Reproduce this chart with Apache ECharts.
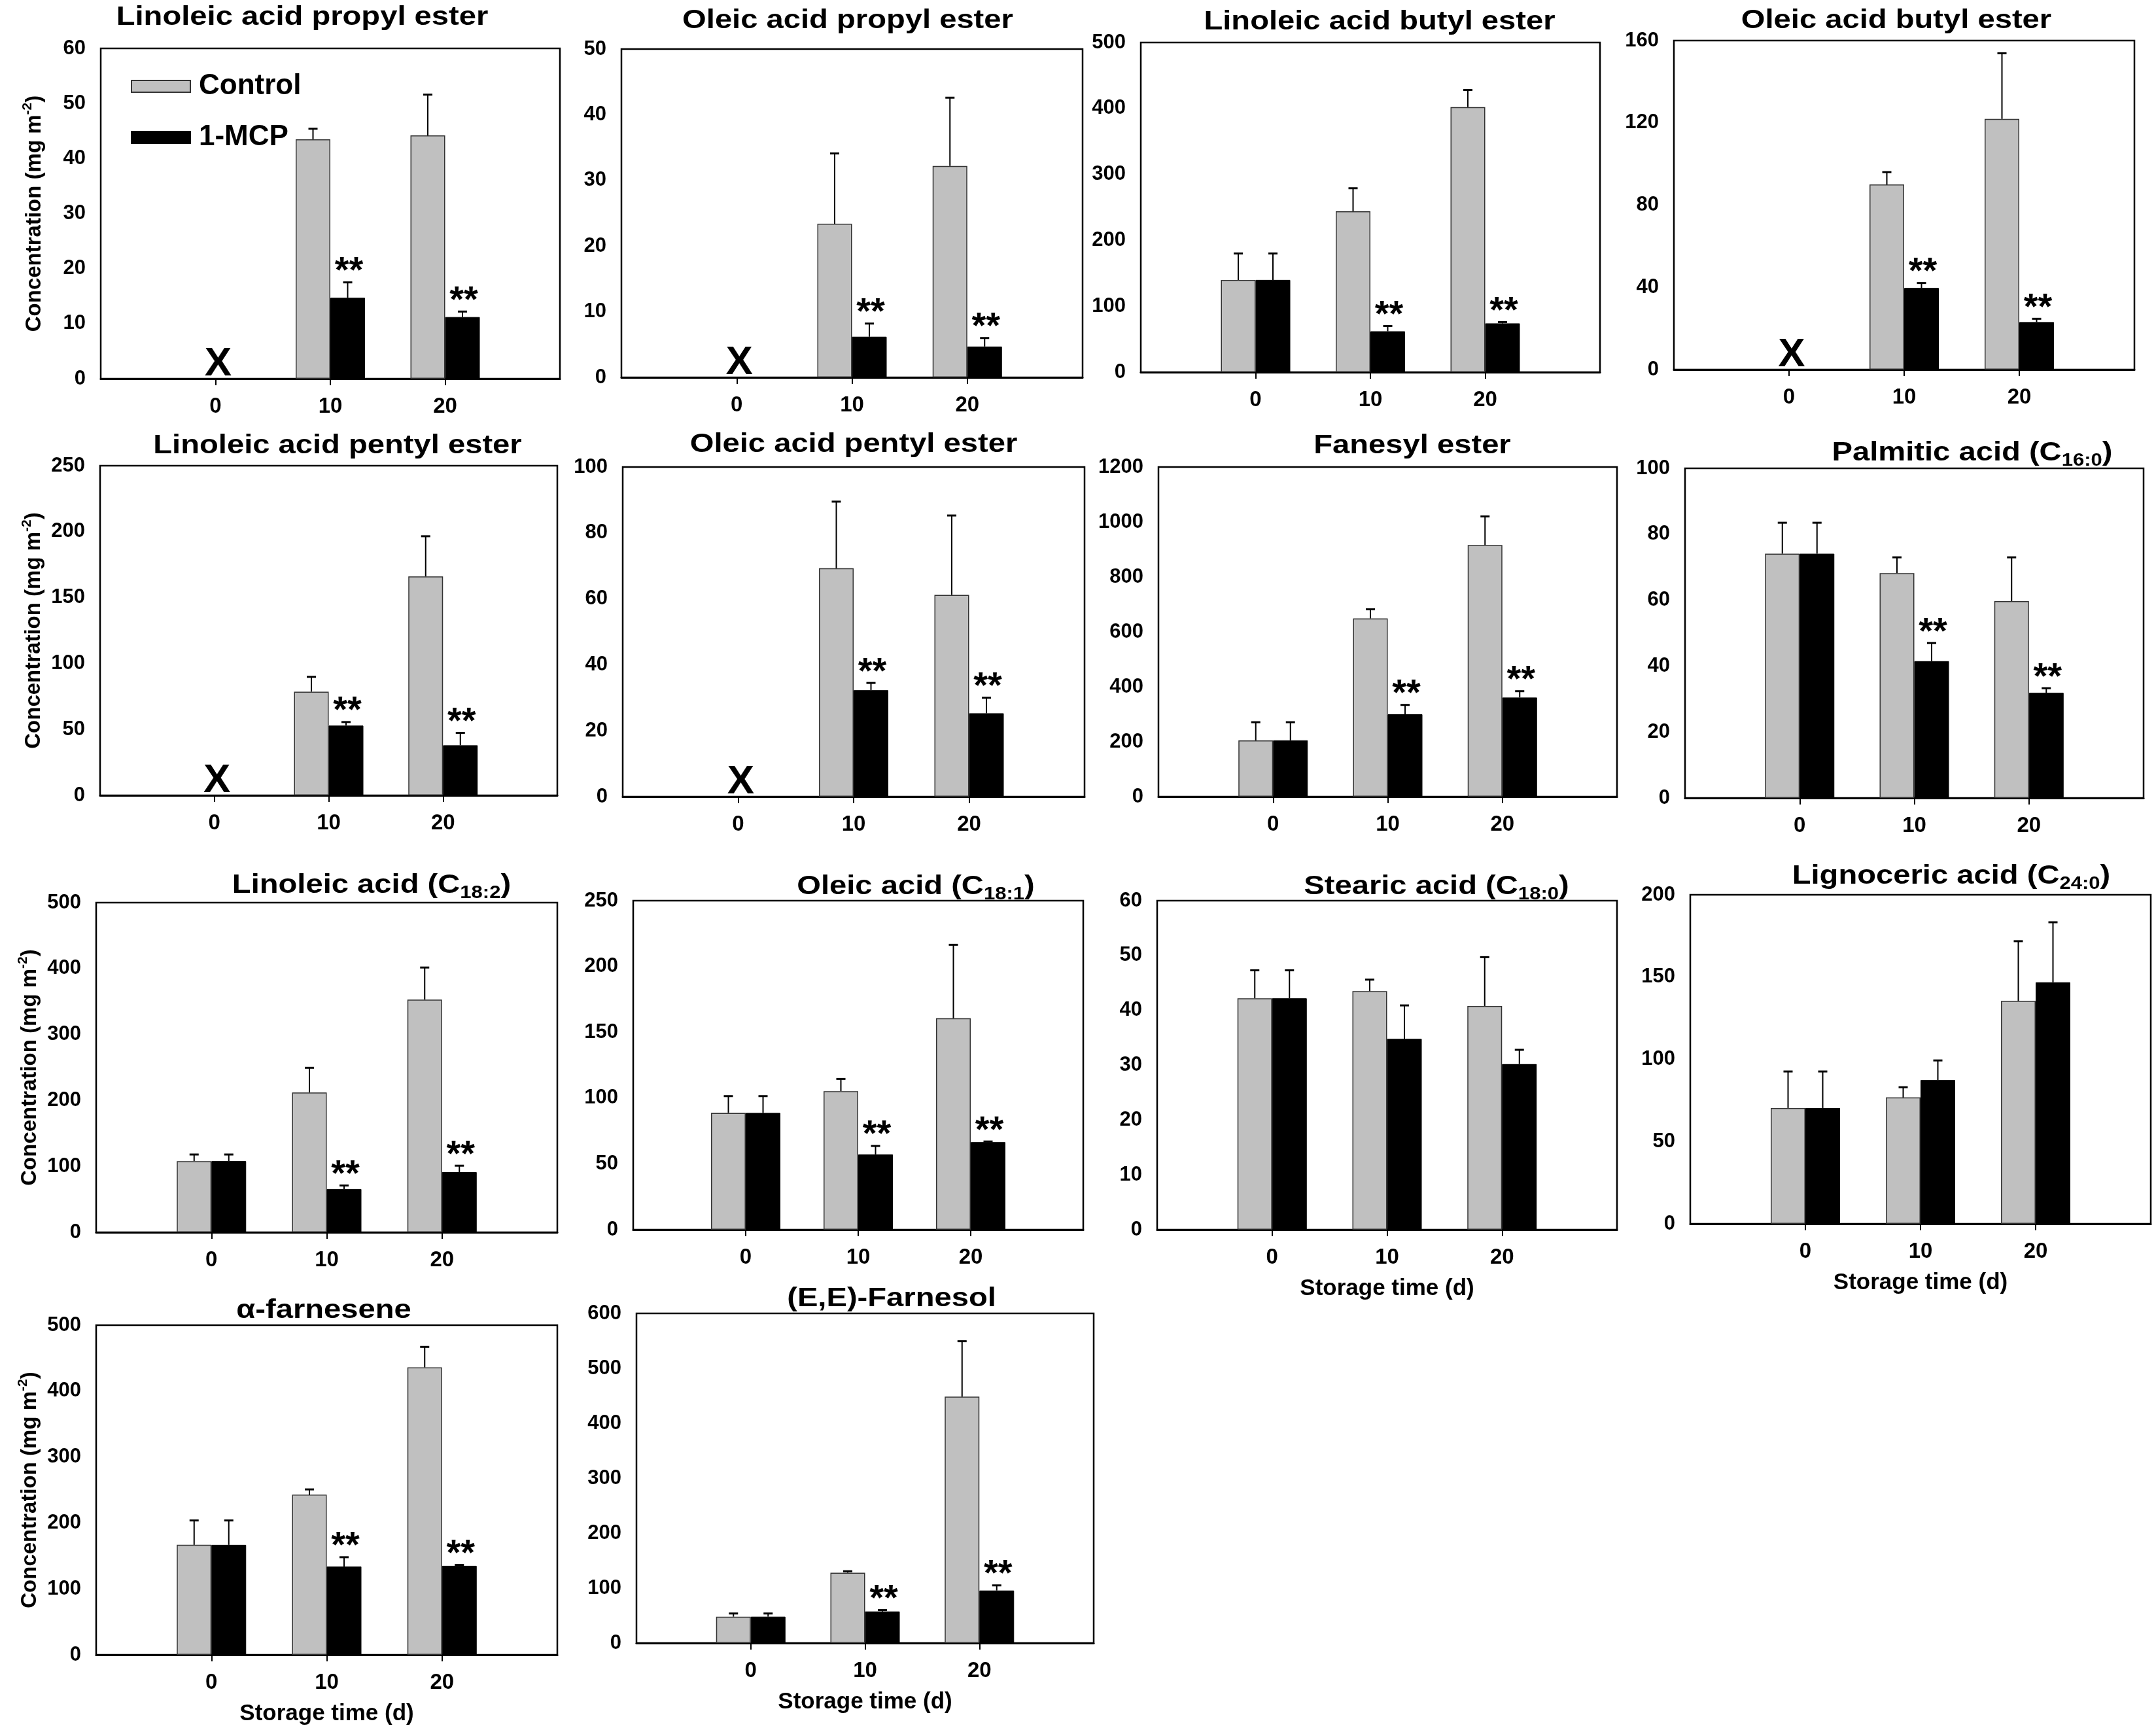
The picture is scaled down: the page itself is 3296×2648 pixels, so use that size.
<!DOCTYPE html>
<html>
<head>
<meta charset="utf-8">
<script src="https://cdn.jsdelivr.net/npm/echarts@6/dist/echarts.min.js"></script>
<style>
html, body { margin: 0; padding: 0; background: #fff; }
#chart { width: 3296px; height: 2648px; }
</style>
</head>
<body>
<div id="chart"></div>
<script>
// storage days on the x axis
var days = ['0', '10', '20'];

// panel titles (subscript part kept apart)
var titleText = ['Linoleic acid propyl ester', 'Oleic acid propyl ester', 'Linoleic acid butyl ester', 'Oleic acid butyl ester',
    'Linoleic acid pentyl ester', 'Oleic acid pentyl ester', 'Fanesyl ester', 'Palmitic acid',
    'Linoleic acid', 'Oleic acid', 'Stearic acid', 'Lignoceric acid',
    'α-farnesene', '(E,E)-Farnesol'];
var titleSub = ['', '', '', '', '', '', '', '16:0', '18:2', '18:1', '18:0', '24:0', '', ''];

// y axis ranges
var yMax = [60, 50, 500, 160, 250, 100, 1200, 100, 500, 250, 60, 200, 500, 600];
var yStep = [10, 10, 100, 40, 50, 20, 200, 20, 100, 50, 10, 50, 100, 100];

// means and SD, null = not detected (X)
var controlMean = [
    [null, 43.5, 44.2], [null, 23.4, 32.2], [140, 244, 402], [null, 90, 121.9],
    [null, 78.6, 166], [null, 69.3, 61.2], [205, 649, 916], [74.1, 68.2, 59.7],
    [108, 212, 353], [88.7, 105.3, 160.7], [42.2, 43.5, 40.8], [70.4, 76.8, 135.5],
    [166.8, 243, 436], [48, 128, 448.4]
];
var controlSD = [
    [null, 1.9, 7.4], [null, 10.7, 10.4], [40, 35, 26], [null, 6, 31.9],
    [null, 11.3, 30.5], [null, 20.2, 24.1], [66, 33, 104], [9.4, 4.8, 13.3],
    [10, 37.6, 48.6], [12.8, 9.3, 55.8], [5.1, 2.1, 8.9], [22.2, 6.2, 36.3],
    [37, 7.9, 31], [5.8, 2.7, 100.9]
];
var mcpMean = [
    [null, 14.7, 11.2], [null, 6.2, 4.7], [140, 62, 74], [null, 39.7, 23.1],
    [null, 52.9, 38], [null, 32.3, 25.3], [205, 300, 361], [74.1, 41.5, 31.9],
    [108, 65.6, 91.3], [88.7, 57.2, 66.5], [42.2, 34.8, 30.2], [70.4, 87.4, 146.8],
    [166.8, 134, 135], [48, 57.5, 95.6]
];
var mcpSD = [
    [null, 2.8, 1.0], [null, 2.0, 1.3], [40, 8, 2], [null, 2.4, 1.6],
    [null, 2.7, 9.4], [null, 2.2, 4.7], [66, 34, 23], [9.4, 5.5, 1.4],
    [10, 5.4, 9.7], [12.8, 6.4, 0.5], [5.1, 6.1, 2.6], [22.2, 11.9, 36.5],
    [37, 14, 1.3], [5.8, 2.5, 9.4]
];
// ** marks (1-MCP vs control)
var starred = [
    [0, 1, 1], [0, 1, 1], [0, 1, 1], [0, 1, 1],
    [0, 1, 1], [0, 1, 1], [0, 1, 1], [0, 1, 1],
    [0, 1, 1], [0, 1, 1], [0, 0, 0], [0, 0, 0],
    [0, 1, 1], [0, 1, 1]
];

// layout: plot boxes [left, top, width, height] and title centres
var boxes = [
    [154, 74, 702, 505], [950, 75, 705, 502], [1744, 65, 702, 504], [2559, 62, 704, 503],
    [153, 712, 699, 504], [952, 714, 706, 504], [1771, 714, 701, 504], [2576, 716, 701, 504],
    [147, 1380, 705, 504], [968, 1377, 688, 503], [1769, 1377, 703, 503], [2584, 1368, 704, 503],
    [147, 2026, 705, 504], [973, 2008, 699, 504]
];
var titlePos = [
    [462, 27], [1296, 32], [2109, 34], [2899, 32],
    [516, 682], [1305, 680], [2159, 682], [3015, 693],
    [568, 1354], [1400, 1356], [2196, 1356], [2983, 1340],
    [495, 2004], [1363, 1986]
];
var yNamePanels = [0, 4, 8, 12];
var xNamePanels = [10, 11, 12, 13];

var FONT = '"Liberation Sans", Arial, sans-serif';
var BAR_W = 53;

function padDays(arr) {
    return [null].concat(arr, [null]);
}

// error bar: line from bar top up to mean+sd with a cap
function renderErr(params, api) {
    var cat = api.value(0), mean = api.value(1), sd = api.value(2), side = api.value(3);
    var base = api.coord([cat, mean]);
    var top = api.coord([cat, mean + sd]);
    var x = base[0] + side * BAR_W / 2;
    return {
        type: 'group',
        children: [
            {type: 'line', shape: {x1: x, y1: base[1], x2: x, y2: top[1]}, style: {stroke: '#000', lineWidth: 2}},
            {type: 'line', shape: {x1: x - 7, y1: top[1], x2: x + 7, y2: top[1]}, style: {stroke: '#000', lineWidth: 3}}
        ]
    };
}

// ** above 1-MCP bars, X where nothing was found
function renderMark(params, api) {
    var kind = api.value(2);
    var p = api.coord([api.value(0), api.value(1)]);
    if (kind === 1) {
        return {type: 'text', x: p[0] + 4, y: p[1] - 22,
            style: {text: 'X', fontSize: 62, fontWeight: 'bold', fontFamily: FONT, fill: '#000', align: 'center', verticalAlign: 'middle'}};
    }
    return {type: 'text', x: p[0] + BAR_W / 2 + 2, y: p[1] - 16,
        style: {text: '**', fontSize: 56, fontWeight: 'bold', fontFamily: FONT, fill: '#000', align: 'center', verticalAlign: 'middle'}};
}

var grids = [], xAxes = [], yAxes = [], series = [], graphics = [];

boxes.forEach(function (b, i) {
    grids.push({left: b[0], top: b[1], width: b[2], height: b[3], show: true, borderColor: '#000', borderWidth: 2.5});

    xAxes.push({
        gridIndex: i,
        type: 'category',
        data: [''].concat(days, ['']),
        boundaryGap: false,
        axisLine: {lineStyle: {color: '#000', width: 3}},
        axisTick: {show: true, length: 10, interval: function (idx) { return idx > 0 && idx < 4; }, lineStyle: {color: '#000', width: 2}},
        axisLabel: {interval: 0, margin: 26, color: '#000', fontSize: 33, fontWeight: 'bold', fontFamily: FONT},
        name: xNamePanels.indexOf(i) >= 0 ? 'Storage time (d)' : '',
        nameLocation: 'middle',
        nameGap: 73,
        nameTextStyle: {color: '#000', fontSize: 35, fontWeight: 'bold', fontFamily: FONT}
    });

    yAxes.push({
        gridIndex: i,
        type: 'value',
        min: 0,
        max: yMax[i],
        interval: yStep[i],
        splitLine: {show: false},
        axisLine: {show: true, lineStyle: {color: '#000', width: 2}},
        axisTick: {show: false},
        axisLabel: {margin: 23, color: '#000', fontSize: 31, fontWeight: 'bold', fontFamily: FONT,
            formatter: function (v) { return String(v); }},
        name: yNamePanels.indexOf(i) >= 0 ? '{a|Concentration (mg m}{s|-2}{a|)}' : '',
        nameLocation: 'middle',
        nameRotate: 90,
        nameGap: 80,
        nameTextStyle: {
            rich: {
                a: {fontSize: 33, fontWeight: 'bold', fontFamily: FONT, color: '#000', lineHeight: 42},
                s: {fontSize: 21, fontWeight: 'bold', fontFamily: FONT, color: '#000', verticalAlign: 'top', lineHeight: 26}
            }
        }
    });

    series.push({
        name: 'Control', type: 'bar', xAxisIndex: i, yAxisIndex: i,
        data: padDays(controlMean[i]), barWidth: BAR_W, barGap: '0%',
        itemStyle: {color: '#c0c0c0', borderColor: '#333', borderWidth: 1.5}, silent: true
    });
    series.push({
        name: '1-MCP', type: 'bar', xAxisIndex: i, yAxisIndex: i,
        data: padDays(mcpMean[i]), barWidth: BAR_W, barGap: '0%',
        itemStyle: {color: '#000', borderColor: '#000', borderWidth: 1}, silent: true
    });

    var errData = [], markData = [];
    days.forEach(function (d, k) {
        if (controlMean[i][k] != null) errData.push([k + 1, controlMean[i][k], controlSD[i][k], -1]);
        if (mcpMean[i][k] != null) errData.push([k + 1, mcpMean[i][k], mcpSD[i][k], 1]);
        if (controlMean[i][k] == null && mcpMean[i][k] == null) markData.push([k + 1, 0, 1]);
        if (starred[i][k]) markData.push([k + 1, mcpMean[i][k] + mcpSD[i][k], 0]);
    });
    series.push({type: 'custom', xAxisIndex: i, yAxisIndex: i, data: errData, renderItem: renderErr, z: 3, silent: true});
    series.push({type: 'custom', xAxisIndex: i, yAxisIndex: i, data: markData, renderItem: renderMark, z: 4, silent: true, clip: false});

    var txt = '{t|' + titleText[i] + (titleSub[i] ? ' }{p|(C}{s|' + titleSub[i] + '}{p|)}' : '}');
    graphics.push({
        type: 'text', x: titlePos[i][0], y: titlePos[i][1], scaleX: 1.15,
        style: {
            text: txt, align: 'center', verticalAlign: 'middle',
            rich: {
                t: {fontSize: 41, fontWeight: 'bold', fontFamily: FONT, fill: '#000', lineHeight: 50},
                p: {fontSize: 41, fontWeight: 'bold', fontFamily: FONT, fill: '#000', lineHeight: 50},
                s: {fontSize: 27, fontWeight: 'bold', fontFamily: FONT, fill: '#000', verticalAlign: 'bottom', lineHeight: 30}
            }
        }
    });
});

var myChart = echarts.init(document.getElementById('chart'));
myChart.setOption({
    backgroundColor: '#fff',
    animation: false,
    legend: {
        left: 195, top: 105, orient: 'vertical',
        itemWidth: 90, itemHeight: 18, itemGap: 34, icon: 'rect',
        selectedMode: false,
        data: ['Control', '1-MCP'],
        textStyle: {fontSize: 44, fontWeight: 'bold', color: '#000', fontFamily: FONT, padding: [0, 0, 0, 8]}
    },
    grid: grids,
    xAxis: xAxes,
    yAxis: yAxes,
    series: series,
    graphic: {elements: graphics}
});
</script>
</body>
</html>
